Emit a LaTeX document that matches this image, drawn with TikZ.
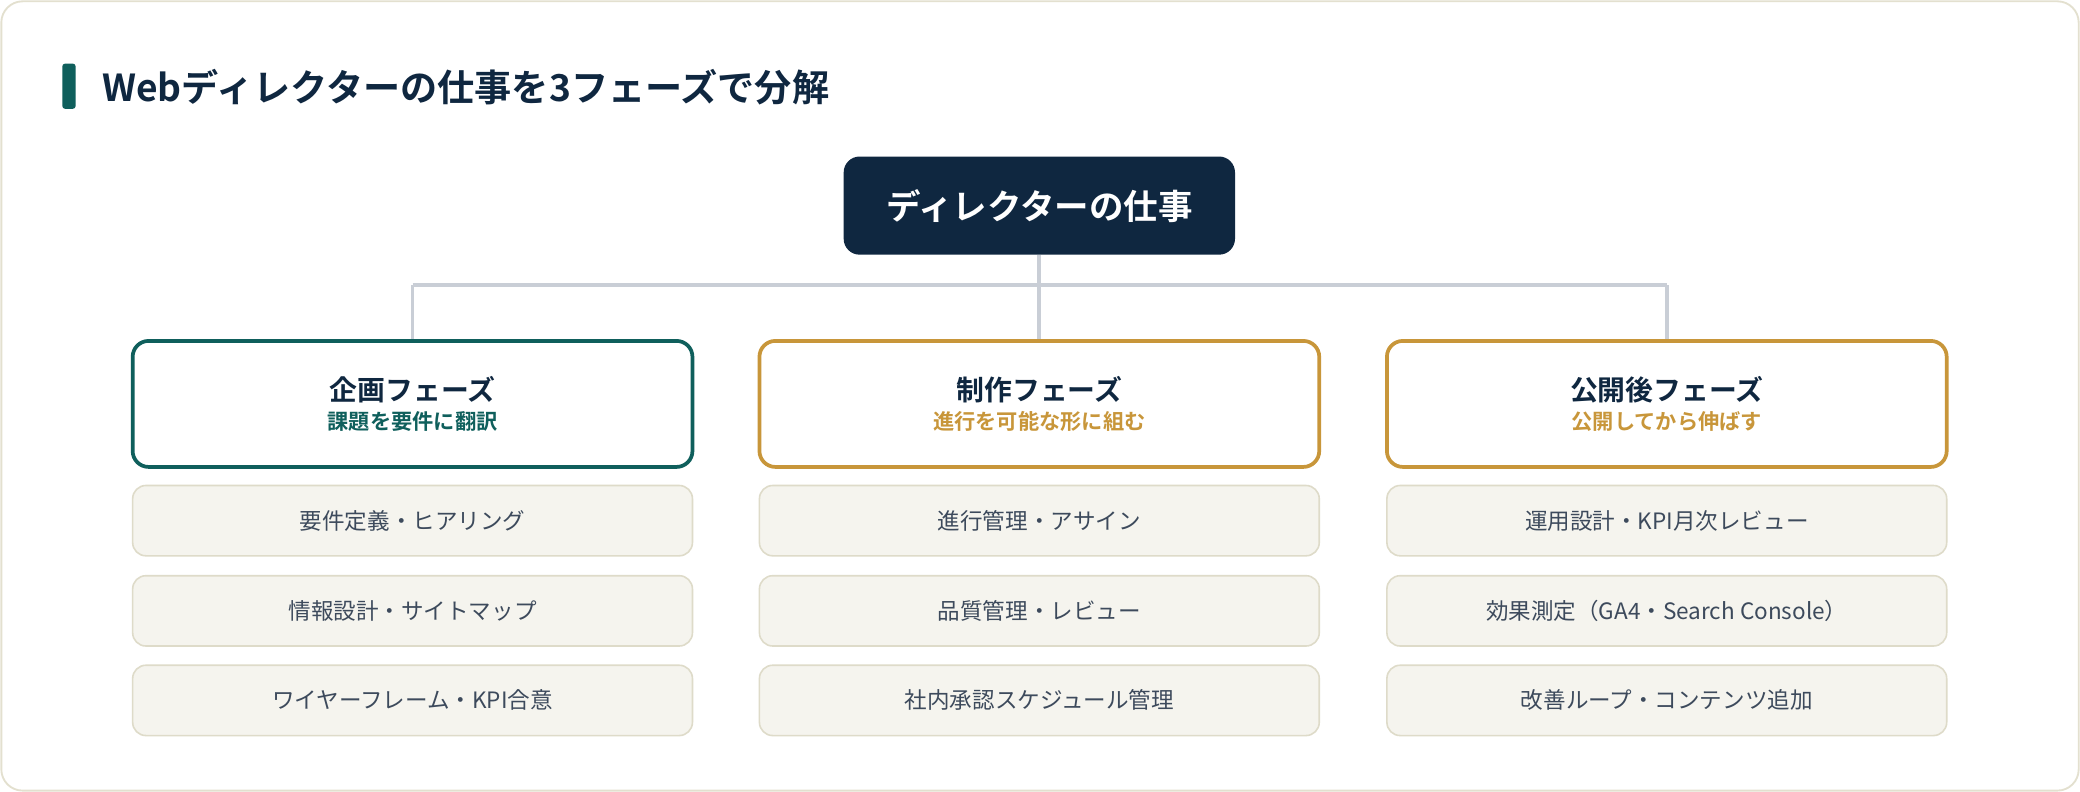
\documentclass[tikz,border=0pt]{standalone}
\usepackage{fontspec}
\setmainfont{Noto Sans CJK JP}
\newfontfamily\jpb{Noto Sans CJK JP Bold}
\definecolor{navy}{HTML}{0F2740}
\definecolor{teal}{HTML}{0F5F5C}
\definecolor{gold}{HTML}{C8963A}
\definecolor{itemfill}{HTML}{F5F4EE}
\definecolor{itemline}{HTML}{DEDBC9}
\definecolor{itemtext}{HTML}{3D4A5C}
\definecolor{conn}{HTML}{C9CED6}
\definecolor{frame}{HTML}{E3E0CF}
\begin{document}
\begin{tikzpicture}[x=0.5pt,y=-0.5pt,
 phase/.style={draw,line width=1.4pt,rounded corners=6pt,fill=white,minimum width=211pt,minimum height=47.5pt,align=center},
 item/.style={draw=itemline,line width=0.6pt,fill=itemfill,rounded corners=5pt,minimum width=211pt,minimum height=26.5pt,text=itemtext,font=\fontsize{8.5}{10}\selectfont},
 ln/.style={draw=conn,line width=1.4pt}]
\useasboundingbox (0,0) rectangle (1568,597);
\draw[frame,line width=0.7pt,rounded corners=8pt,fill=white] (1,1) rectangle (1567,596);
\fill[teal,rounded corners=1pt] (47,48) rectangle (57,82);
\node[anchor=west,text=navy,font=\jpb\fontsize{14}{16}\selectfont] (title) at (70,66) {Webディレクターの仕事を3フェーズで分解};
\node[fill=navy,rounded corners=6pt,minimum width=147.5pt,minimum height=37pt,text=white,font=\jpb\fontsize{13}{15}\selectfont] (root) at (783.5,155) {ディレクターの仕事};
\foreach \n/\x/\c/\t/\s in {a/311/teal/企画フェーズ/課題を要件に翻訳, b/783.5/gold/制作フェーズ/進行を可能な形に組む, c/1256.5/gold/公開後フェーズ/公開してから伸ばす}{
 \node[phase,draw=\c] (\n) at (\x,304.5) {{\jpb\fontsize{10.5}{13}\selectfont\color{navy}\t}\\[-1pt]{\jpb\fontsize{8}{10}\selectfont\color{\c}\s}};
}
\coordinate (j) at (783.5,215);
\coordinate (ja) at (311,215);
\coordinate (jc) at (1256.5,215);
\draw[ln] (root.south) -- (j);
\draw[ln] (ja) -- (jc);
\draw[ln] (ja) -- (a.north);
\draw[ln] (j) -- (b.north);
\draw[ln] (jc) -- (c.north);
\node[item] (a1) at (311,392.5) {要件定義・ヒアリング};
\node[item] (a2) at (311,460.5) {情報設計・サイトマップ};
\node[item] (a3) at (311,528) {ワイヤーフレーム・KPI合意};
\node[item] (b1) at (783.5,392.5) {進行管理・アサイン};
\node[item] (b2) at (783.5,460.5) {品質管理・レビュー};
\node[item] (b3) at (783.5,528) {社内承認スケジュール管理};
\node[item] (c1) at (1256.5,392.5) {運用設計・KPI月次レビュー};
\node[item] (c2) at (1256.5,460.5) {効果測定（GA4・Search Console）};
\node[item] (c3) at (1256.5,528) {改善ループ・コンテンツ追加};
\end{tikzpicture}
\end{document}
